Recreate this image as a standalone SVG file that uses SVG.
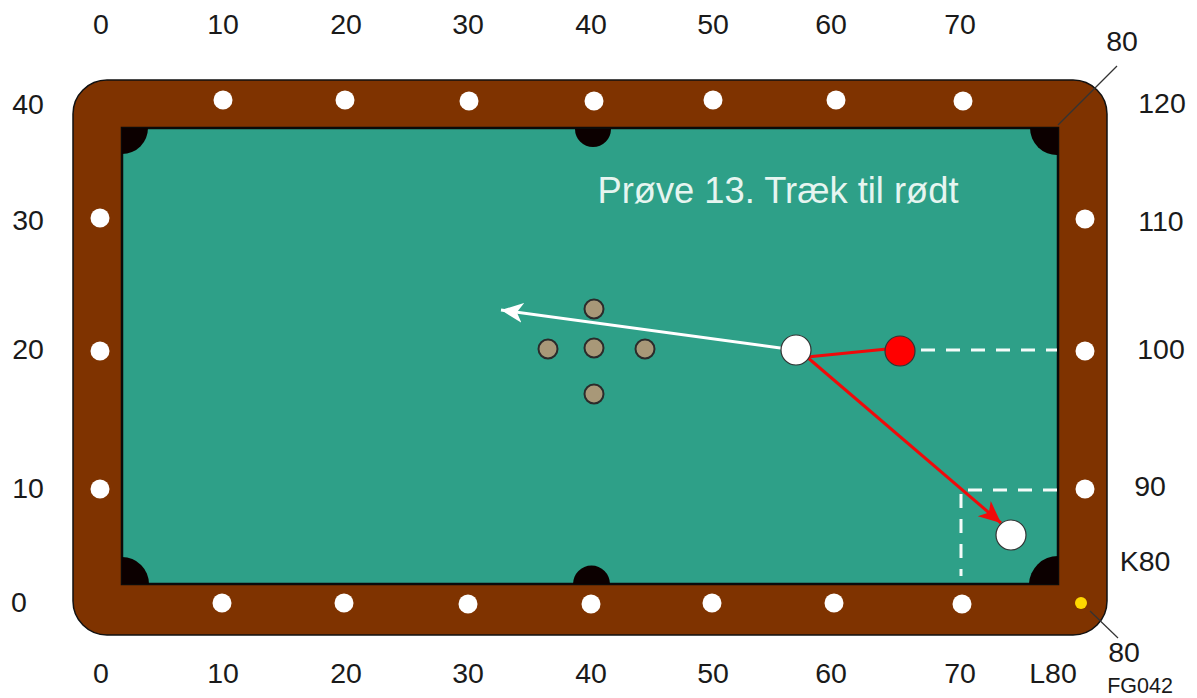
<svg xmlns="http://www.w3.org/2000/svg" width="1197" height="698" viewBox="0 0 1197 698">
<style>
text{font-family:"Liberation Sans",Arial,sans-serif;font-size:28.500px;fill:#1a1a1a;text-anchor:middle}
.d{fill:#fff}
.b{fill:#a89878;stroke:#2b2b2b;stroke-width:2}
.p{fill:#0c0000}
.w{fill:#fff;stroke:#333;stroke-width:1.2}
.dash{stroke:#f4fbf9;stroke-width:3;stroke-dasharray:14 11;fill:none}
</style>
<defs>
<marker id="ar" markerUnits="userSpaceOnUse" markerWidth="26" markerHeight="22" refX="22" refY="10" orient="auto"><path d="M0 0L22 10L0 20L6 10Z" fill="#f00a0a"/></marker>
<marker id="aw" markerUnits="userSpaceOnUse" markerWidth="26" markerHeight="22" refX="22" refY="10" orient="auto"><path d="M0 0L22 10L0 20L6 10Z" fill="#fff"/></marker>
</defs>
<g id="table">
<rect x="73" y="80" width="1034" height="555" rx="34" fill="#7f3300" stroke="#111" stroke-width="1.5"/>
<rect x="122" y="128" width="936" height="456" fill="#2ea088" stroke="#0a0a0a" stroke-width="2.5"/>
</g>
<g id="pockets">
<path class="p" d="M122 128h26a26 26 0 0 1-26 26z"/>
<path class="p" d="M575 129h36a18 18 0 0 1-36 0z"/>
<path class="p" d="M1058 128v27a27 27 0 0 1-28-27z"/>
<path class="p" d="M122 584v-27a27 27 0 0 1 27 27z"/>
<path class="p" d="M573 584a18.500 18.500 0 0 1 37 0z"/>
<path class="p" d="M1058 584h-29a29 29 0 0 1 29-28z"/>
</g>
<g id="diamonds">
<circle class="d" cx="223" cy="100" r="9.500"/><circle class="d" cx="345" cy="100" r="9.500"/><circle class="d" cx="469" cy="101" r="9.500"/><circle class="d" cx="594" cy="101" r="9.500"/><circle class="d" cx="713" cy="100" r="9.500"/><circle class="d" cx="836" cy="100" r="9.500"/><circle class="d" cx="963" cy="101" r="9.500"/>
<circle class="d" cx="222" cy="603" r="9.500"/><circle class="d" cx="344" cy="603" r="9.500"/><circle class="d" cx="468" cy="604" r="9.500"/><circle class="d" cx="591" cy="604" r="9.500"/><circle class="d" cx="712" cy="603" r="9.500"/><circle class="d" cx="834" cy="603" r="9.500"/><circle class="d" cx="962" cy="604" r="9.500"/>
<circle class="d" cx="100" cy="218" r="9.500"/><circle class="d" cx="100" cy="351" r="9.500"/><circle class="d" cx="100" cy="489" r="9.500"/>
<circle class="d" cx="1085" cy="219" r="9.500"/><circle class="d" cx="1085" cy="351" r="9.500"/><circle class="d" cx="1085" cy="489" r="9.500"/>
<circle cx="1081" cy="603" r="6" fill="#ffd800"/>
</g>
<g id="connectors" fill="none">
<path class="dash" d="M921 350H1057"/>
<path class="dash" d="M1057 490H961V576"/>
<path d="M1058 125L1117 66" stroke="#333" stroke-width="1.200"/>
<path d="M1090 611L1118 638" stroke="#333" stroke-width="1.200"/>
<path d="M795 350L501 310" stroke="#fff" stroke-width="3" marker-end="url(#aw)"/>
<path d="M887 349L807 357" stroke="#f00a0a" stroke-width="3"/>
<path d="M807 357L1001 523" stroke="#f00a0a" stroke-width="3" marker-end="url(#ar)"/>
</g>
<g id="balls">
<circle class="b" cx="594" cy="309" r="9.500"/><circle class="b" cx="548" cy="349" r="9.500"/><circle class="b" cx="594" cy="348" r="9.500"/><circle class="b" cx="645" cy="349" r="9.500"/><circle class="b" cx="594" cy="394" r="9.500"/>
<circle class="w" cx="796" cy="350" r="15"/>
<circle cx="900" cy="351" r="15" fill="#f00" stroke="#333" stroke-width="1.200"/>
<circle class="w" cx="1011" cy="535" r="15"/>
</g>
<g id="labels">
<text x="101" y="34">0</text><text x="223" y="34">10</text><text x="346" y="34">20</text><text x="468" y="34">30</text><text x="591" y="34">40</text><text x="713" y="34">50</text><text x="831" y="34">60</text><text x="960" y="34">70</text>
<text x="1122" y="51">80</text>
<text x="28" y="114">40</text><text x="28" y="230">30</text><text x="28" y="359">20</text><text x="28" y="498">10</text><text x="19" y="612">0</text>
<text x="1162" y="113">120</text><text x="1161" y="231">110</text><text x="1161" y="359">100</text><text x="1150" y="496">90</text><text x="1145" y="571">K80</text>
<text x="101" y="683">0</text><text x="223" y="683">10</text><text x="346" y="683">20</text><text x="468" y="683">30</text><text x="591" y="683">40</text><text x="713" y="683">50</text><text x="831" y="683">60</text><text x="960" y="683">70</text><text x="1053" y="683">L80</text>
<text x="1124" y="662">80</text>
<text x="1140" y="693" style="font-size:21.500px">FG042</text>
<text x="778" y="203" style="font-size:36.300px;fill:#e6f5f0">Prøve 13. Træk til rødt</text>
</g>
</svg>
